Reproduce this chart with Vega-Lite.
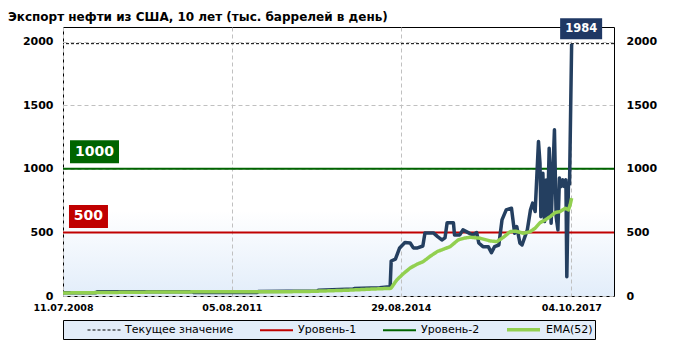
{
  "$schema": "https://vega.github.io/schema/vega-lite/v6.json",
  "width": 551,
  "height": 269,
  "autosize": {"type": "none"},
  "padding": {"left": 63, "top": 27, "right": 67, "bottom": 45},
  "background": "#ffffff",
  "title": {
    "text": "Экспорт нефти из США, 10 лет (тыс. баррелей в день)",
    "anchor": "start",
    "frame": "group",
    "dx": -55,
    "offset": -6,
    "font": "DejaVu Sans",
    "fontSize": 12,
    "fontWeight": "bold",
    "color": "#000000"
  },
  "config": {
    "view": {
      "stroke": "#000000",
      "strokeWidth": 1,
      "fill": {
        "gradient": "linear",
        "x1": 0, "y1": 0, "x2": 0, "y2": 1,
        "stops": [
          {"offset": 0, "color": "#ffffff"},
          {"offset": 0.68, "color": "#ffffff"},
          {"offset": 1, "color": "#e2edfa"}
        ]
      }
    },
    "axisX": {
      "ticks": false,
      "domain": false,
      "grid": true,
      "gridColor": "#c0c0c0",
      "gridDash": [4, 3],
      "labelFlush": false,
      "labelOverlap": false,
      "labelFont": "DejaVu Sans",
      "labelFontSize": 9.5,
      "labelFontWeight": "bold",
      "labelColor": "#000000",
      "labelPadding": 6,
      "title": null
    },
    "axisY": {
      "ticks": false,
      "domain": false,
      "format": "d",
      "labelFont": "DejaVu Sans",
      "labelFontSize": 11,
      "labelFontWeight": "bold",
      "labelColor": "#000000",
      "title": null
    }
  },
  "datasets": {
    "main": [
      {"date": "2008-07-11", "value": 26},
      {"date": "2009-02-15", "value": 26},
      {"date": "2009-02-22", "value": 34},
      {"date": "2010-11-19", "value": 34},
      {"date": "2010-11-26", "value": 27},
      {"date": "2012-01-20", "value": 27},
      {"date": "2012-01-27", "value": 35},
      {"date": "2013-02-22", "value": 40},
      {"date": "2013-03-01", "value": 45},
      {"date": "2013-10-18", "value": 55},
      {"date": "2013-10-25", "value": 58},
      {"date": "2014-04-11", "value": 65},
      {"date": "2014-05-30", "value": 70},
      {"date": "2014-06-20", "value": 70},
      {"date": "2014-06-27", "value": 275},
      {"date": "2014-07-25", "value": 290},
      {"date": "2014-08-22", "value": 378},
      {"date": "2014-09-26", "value": 420},
      {"date": "2014-10-31", "value": 417},
      {"date": "2014-11-21", "value": 378},
      {"date": "2014-12-19", "value": 378},
      {"date": "2015-01-23", "value": 393},
      {"date": "2015-02-06", "value": 496},
      {"date": "2015-04-03", "value": 496},
      {"date": "2015-05-01", "value": 467},
      {"date": "2015-05-29", "value": 441},
      {"date": "2015-06-19", "value": 457},
      {"date": "2015-07-03", "value": 575},
      {"date": "2015-08-14", "value": 575},
      {"date": "2015-08-21", "value": 480},
      {"date": "2015-09-25", "value": 480},
      {"date": "2015-10-16", "value": 520},
      {"date": "2015-11-20", "value": 498},
      {"date": "2015-12-18", "value": 480},
      {"date": "2016-01-15", "value": 498},
      {"date": "2016-01-29", "value": 417},
      {"date": "2016-02-26", "value": 388},
      {"date": "2016-04-01", "value": 388},
      {"date": "2016-04-22", "value": 341},
      {"date": "2016-05-13", "value": 388},
      {"date": "2016-06-10", "value": 401},
      {"date": "2016-07-01", "value": 598},
      {"date": "2016-07-29", "value": 677},
      {"date": "2016-09-02", "value": 690},
      {"date": "2016-09-23", "value": 493},
      {"date": "2016-10-07", "value": 546},
      {"date": "2016-10-28", "value": 415},
      {"date": "2016-11-11", "value": 401},
      {"date": "2016-12-16", "value": 520},
      {"date": "2017-01-06", "value": 677},
      {"date": "2017-01-20", "value": 730},
      {"date": "2017-02-06", "value": 664},
      {"date": "2017-02-28", "value": 1215},
      {"date": "2017-03-10", "value": 1045},
      {"date": "2017-03-16", "value": 624},
      {"date": "2017-03-29", "value": 966},
      {"date": "2017-04-09", "value": 585},
      {"date": "2017-04-20", "value": 913},
      {"date": "2017-04-29", "value": 624},
      {"date": "2017-05-10", "value": 1162},
      {"date": "2017-05-17", "value": 939},
      {"date": "2017-05-23", "value": 572},
      {"date": "2017-06-04", "value": 992},
      {"date": "2017-06-14", "value": 1307},
      {"date": "2017-06-25", "value": 624},
      {"date": "2017-07-07", "value": 520},
      {"date": "2017-07-17", "value": 927},
      {"date": "2017-07-29", "value": 861},
      {"date": "2017-08-09", "value": 913},
      {"date": "2017-08-19", "value": 861},
      {"date": "2017-08-29", "value": 913},
      {"date": "2017-09-04", "value": 152},
      {"date": "2017-09-15", "value": 887},
      {"date": "2017-09-22", "value": 880},
      {"date": "2017-10-06", "value": 1984}
    ],
    "ema": [
      {"date": "2008-07-11", "value": 24, "series": "EMA(52)"},
      {"date": "2009-06-01", "value": 28, "series": "EMA(52)"},
      {"date": "2010-06-01", "value": 32, "series": "EMA(52)"},
      {"date": "2011-06-01", "value": 33, "series": "EMA(52)"},
      {"date": "2012-06-01", "value": 33, "series": "EMA(52)"},
      {"date": "2013-01-01", "value": 36, "series": "EMA(52)"},
      {"date": "2013-09-01", "value": 45, "series": "EMA(52)"},
      {"date": "2014-03-01", "value": 55, "series": "EMA(52)"},
      {"date": "2014-06-25", "value": 60, "series": "EMA(52)"},
      {"date": "2014-08-03", "value": 126, "series": "EMA(52)"},
      {"date": "2014-09-15", "value": 175, "series": "EMA(52)"},
      {"date": "2014-10-31", "value": 220, "series": "EMA(52)"},
      {"date": "2014-12-15", "value": 250, "series": "EMA(52)"},
      {"date": "2015-01-25", "value": 270, "series": "EMA(52)"},
      {"date": "2015-03-10", "value": 310, "series": "EMA(52)"},
      {"date": "2015-04-28", "value": 349, "series": "EMA(52)"},
      {"date": "2015-07-23", "value": 388, "series": "EMA(52)"},
      {"date": "2015-09-14", "value": 441, "series": "EMA(52)"},
      {"date": "2015-10-25", "value": 455, "series": "EMA(52)"},
      {"date": "2015-12-03", "value": 462, "series": "EMA(52)"},
      {"date": "2016-02-07", "value": 454, "series": "EMA(52)"},
      {"date": "2016-04-13", "value": 433, "series": "EMA(52)"},
      {"date": "2016-05-28", "value": 428, "series": "EMA(52)"},
      {"date": "2016-07-11", "value": 462, "series": "EMA(52)"},
      {"date": "2016-08-24", "value": 506, "series": "EMA(52)"},
      {"date": "2016-09-27", "value": 510, "series": "EMA(52)"},
      {"date": "2016-11-20", "value": 493, "series": "EMA(52)"},
      {"date": "2017-01-04", "value": 506, "series": "EMA(52)"},
      {"date": "2017-02-06", "value": 533, "series": "EMA(52)"},
      {"date": "2017-03-11", "value": 577, "series": "EMA(52)"},
      {"date": "2017-04-13", "value": 598, "series": "EMA(52)"},
      {"date": "2017-05-17", "value": 624, "series": "EMA(52)"},
      {"date": "2017-06-19", "value": 656, "series": "EMA(52)"},
      {"date": "2017-07-22", "value": 664, "series": "EMA(52)"},
      {"date": "2017-08-24", "value": 690, "series": "EMA(52)"},
      {"date": "2017-09-15", "value": 677, "series": "EMA(52)"},
      {"date": "2017-09-26", "value": 717, "series": "EMA(52)"},
      {"date": "2017-10-06", "value": 769, "series": "EMA(52)"}
    ],
    "levels": [
      {"series": "Текущее значение", "value": 1984},
      {"series": "Уровень-1", "value": 500},
      {"series": "Уровень-2", "value": 1000}
    ],
    "labels": [
      {"label": "1000", "date": "2009-02-05", "value": 1000},
      {"label": "500", "date": "2008-12-27", "value": 500},
      {"label": "1984", "date": "2017-10-06", "value": 1984}
    ]
  },
  "layer": [
    {
      "data": {"name": "levels"},
      "mark": {"type": "rule"},
      "encoding": {
        "y": {"field": "value", "type": "quantitative", "scale": {"domain": [0, 2115], "nice": false, "zero": true}, "axis": null},
        "color": {
          "field": "series", "type": "nominal",
          "scale": {"domain": ["Текущее значение", "Уровень-1", "Уровень-2", "EMA(52)"], "range": ["#000000", "#c00000", "#006400", "#92d050"]},
          "legend": {
            "orient": "none",
            "legendX": 0,
            "legendY": 293,
            "direction": "horizontal",
            "title": null,
            "symbolType": "M-3,0H3",
            "symbolSize": 121,
            "symbolOffset": 33,
            "labelFont": "DejaVu Sans",
            "labelFontSize": 11,
            "labelColor": "#000000",
            "labelOffset": 15,
            "columnPadding": 3,
            "padding": 2,
            "strokeColor": "#000000",
            "fillColor": "#e3edf9"
          }
        },
        "strokeDash": {
          "field": "series", "type": "nominal",
          "scale": {"domain": ["Текущее значение", "Уровень-1", "Уровень-2", "EMA(52)"], "range": [[3, 2], [1, 0], [1, 0], [1, 0]]}
        },
        "strokeWidth": {
          "field": "series", "type": "nominal",
          "scale": {"type": "ordinal", "domain": ["Текущее значение", "Уровень-1", "Уровень-2", "EMA(52)"], "range": [1, 2, 2, 3.5]}
        }
      }
    },
    {
      "data": {"name": "main"},
      "mark": {"type": "line", "color": "#243f60", "strokeWidth": 3.5, "strokeJoin": "round"},
      "encoding": {
        "x": {
          "field": "date", "type": "temporal",
          "scale": {"type": "utc", "domain": [{"year": 2008, "month": 7, "date": 11, "utc": true}, {"year": 2018, "month": 7, "date": 14, "utc": true}]},
          "axis": {"values": [{"year": 2008, "month": 7, "date": 11, "utc": true}, {"year": 2011, "month": 8, "date": 5, "utc": true}, {"year": 2014, "month": 8, "date": 29, "utc": true}, {"year": 2017, "month": 10, "date": 4, "utc": true}], "format": "%d.%m.%Y"}
        },
        "y": {
          "field": "value", "type": "quantitative",
          "scale": {"domain": [0, 2115], "nice": false, "zero": true},
          "axis": {"orient": "left", "values": [0, 500, 1000, 1500, 2000], "grid": true, "gridColor": "#c0c0c0", "gridDash": [4, 3], "labelPadding": 10}
        }
      }
    },
    {
      "data": {"name": "ema"},
      "mark": {"type": "line", "strokeJoin": "round"},
      "encoding": {
        "x": {
          "field": "date", "type": "temporal",
          "scale": {"type": "utc", "domain": [{"year": 2008, "month": 7, "date": 11, "utc": true}, {"year": 2018, "month": 7, "date": 14, "utc": true}]},
          "axis": {"values": [{"year": 2008, "month": 7, "date": 11, "utc": true}, {"year": 2011, "month": 8, "date": 5, "utc": true}, {"year": 2014, "month": 8, "date": 29, "utc": true}, {"year": 2017, "month": 10, "date": 4, "utc": true}], "format": "%d.%m.%Y"}
        },
        "y": {
          "field": "value", "type": "quantitative",
          "scale": {"domain": [0, 2115], "nice": false, "zero": true},
          "axis": {"orient": "right", "values": [0, 500, 1000, 1500, 2000], "grid": false, "labelPadding": 12}
        },
        "color": {
          "field": "series", "type": "nominal",
          "scale": {"domain": ["Текущее значение", "Уровень-1", "Уровень-2", "EMA(52)"], "range": ["#000000", "#c00000", "#006400", "#92d050"]}
        },
        "strokeDash": {
          "field": "series", "type": "nominal",
          "scale": {"domain": ["Текущее значение", "Уровень-1", "Уровень-2", "EMA(52)"], "range": [[3, 2], [1, 0], [1, 0], [1, 0]]}
        },
        "strokeWidth": {
          "field": "series", "type": "nominal",
          "scale": {"type": "ordinal", "domain": ["Текущее значение", "Уровень-1", "Уровень-2", "EMA(52)"], "range": [1, 2, 2, 3.5]}
        }
      }
    },
    {
      "data": {"name": "labels"},
      "transform": [{"filter": "datum.label === '1000'"}],
      "encoding": {
        "x": {
          "field": "date", "type": "temporal",
          "scale": {"type": "utc", "domain": [{"year": 2008, "month": 7, "date": 11, "utc": true}, {"year": 2018, "month": 7, "date": 14, "utc": true}]},
          "axis": {"values": [{"year": 2008, "month": 7, "date": 11, "utc": true}, {"year": 2011, "month": 8, "date": 5, "utc": true}, {"year": 2014, "month": 8, "date": 29, "utc": true}, {"year": 2017, "month": 10, "date": 4, "utc": true}], "format": "%d.%m.%Y"}
        },
        "y": {"field": "value", "type": "quantitative", "scale": {"domain": [0, 2115], "nice": false, "zero": true}, "axis": null}
      },
      "layer": [
        {"mark": {"type": "rect", "width": 49, "height": 23, "yOffset": -17, "color": "#006400"}},
        {"mark": {"type": "text", "yOffset": -17, "font": "DejaVu Sans", "fontSize": 14, "fontWeight": "bold", "color": "#ffffff", "align": "center", "baseline": "middle"}, "encoding": {"text": {"field": "label"}}}
      ]
    },
    {
      "data": {"name": "labels"},
      "transform": [{"filter": "datum.label === '500'"}],
      "encoding": {
        "x": {
          "field": "date", "type": "temporal",
          "scale": {"type": "utc", "domain": [{"year": 2008, "month": 7, "date": 11, "utc": true}, {"year": 2018, "month": 7, "date": 14, "utc": true}]},
          "axis": {"values": [{"year": 2008, "month": 7, "date": 11, "utc": true}, {"year": 2011, "month": 8, "date": 5, "utc": true}, {"year": 2014, "month": 8, "date": 29, "utc": true}, {"year": 2017, "month": 10, "date": 4, "utc": true}], "format": "%d.%m.%Y"}
        },
        "y": {"field": "value", "type": "quantitative", "scale": {"domain": [0, 2115], "nice": false, "zero": true}, "axis": null}
      },
      "layer": [
        {"mark": {"type": "rect", "width": 39, "height": 23, "yOffset": -16, "color": "#c00000"}},
        {"mark": {"type": "text", "yOffset": -16, "font": "DejaVu Sans", "fontSize": 14, "fontWeight": "bold", "color": "#ffffff", "align": "center", "baseline": "middle"}, "encoding": {"text": {"field": "label"}}}
      ]
    },
    {
      "data": {"name": "labels"},
      "transform": [{"filter": "datum.label === '1984'"}],
      "encoding": {
        "x": {
          "field": "date", "type": "temporal",
          "scale": {"type": "utc", "domain": [{"year": 2008, "month": 7, "date": 11, "utc": true}, {"year": 2018, "month": 7, "date": 14, "utc": true}]},
          "axis": {"values": [{"year": 2008, "month": 7, "date": 11, "utc": true}, {"year": 2011, "month": 8, "date": 5, "utc": true}, {"year": 2014, "month": 8, "date": 29, "utc": true}, {"year": 2017, "month": 10, "date": 4, "utc": true}], "format": "%d.%m.%Y"}
        },
        "y": {"field": "value", "type": "quantitative", "scale": {"domain": [0, 2115], "nice": false, "zero": true}, "axis": null}
      },
      "layer": [
        {"mark": {"type": "rect", "width": 42, "height": 21, "xOffset": 9.5, "yOffset": -15, "color": "#1f3864"}},
        {"mark": {"type": "text", "xOffset": 9.5, "yOffset": -15, "font": "DejaVu Sans", "fontSize": 11.5, "fontWeight": "bold", "color": "#ffffff", "align": "center", "baseline": "middle"}, "encoding": {"text": {"field": "label"}}}
      ]
    }
  ],
  "resolve": {"axis": {"y": "independent"}}
}
